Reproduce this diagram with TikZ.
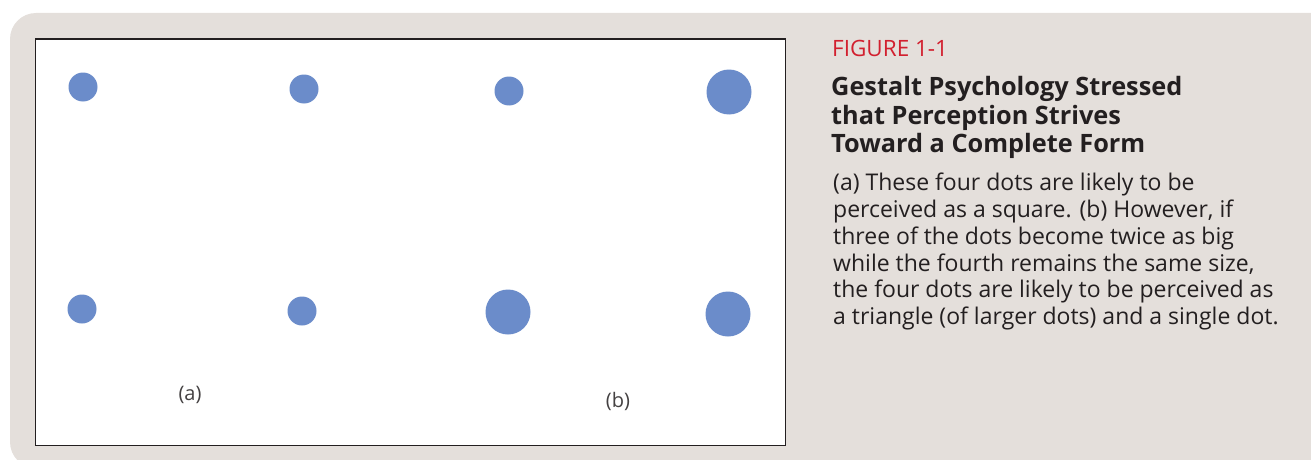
\documentclass[tikz,border=0pt]{standalone}
\usepackage{fontspec}
\setmainfont{Open Sans}
\definecolor{panelbg}{HTML}{E4DFDB}
\definecolor{dotblue}{HTML}{6B8CCA}
\definecolor{figred}{HTML}{D2202F}
\definecolor{txt}{HTML}{231F20}
\tikzset{
  dot/.style={circle,fill=dotblue,draw=none,inner sep=0pt},
  small/.style={dot,minimum size=29pt},
  big/.style={dot,minimum size=45pt},
  sublabel/.style={font=\fontsize{20}{22}\selectfont,text=txt!85,inner sep=0pt},
}
\begin{document}
\begin{tikzpicture}[x=1pt,y=-1pt]
\useasboundingbox (0,0) rectangle (1311,460);
\fill[panelbg,rounded corners=26pt] (10,13) rectangle (1337,468);
\node[draw=txt,line width=1.5pt,fill=white,minimum width=750pt,minimum height=406pt,inner sep=0pt,anchor=north west] (frame) at (34.5,38.5) {};
\node[small] (d1) at (83,87) {};
\node[small] (d2) at (304,89) {};
\node[small] (d3) at (509,91) {};
\node[big] (d4) at (729,92) {};
\node[small] (d5) at (82,309) {};
\node[small] (d6) at (302,311) {};
\node[big] (d7) at (508,312) {};
\node[big] (d8) at (728,314) {};
\node[sublabel] (la) at (190,395) {(a)};
\node[sublabel] (lb) at (618,401) {(b)};
\node[anchor=base west,inner sep=0pt,text=figred,font=\fontsize{22.5}{24}\selectfont] (fig) at (832,56.5) {FIGURE 1-1};
\node[anchor=north west,inner sep=0pt,text=txt,align=left,font=\fontsize{25.3}{28.5}\selectfont\bfseries] (title) at (831,76.5) {Gestalt Psychology Stressed\\that Perception Strives\\Toward a Complete Form};
\node[anchor=north west,inner sep=0pt,text=txt,align=left,font=\fontsize{23}{26.9}\selectfont] (body) at (833,172.5) {(a) These four dots are likely to be\\perceived as a square. (b) However, if\\three of the dots become twice as big\\while the fourth remains the same size,\\the four dots are likely to be perceived as\\a triangle (of larger dots) and a single dot.};
\end{tikzpicture}
\end{document}
